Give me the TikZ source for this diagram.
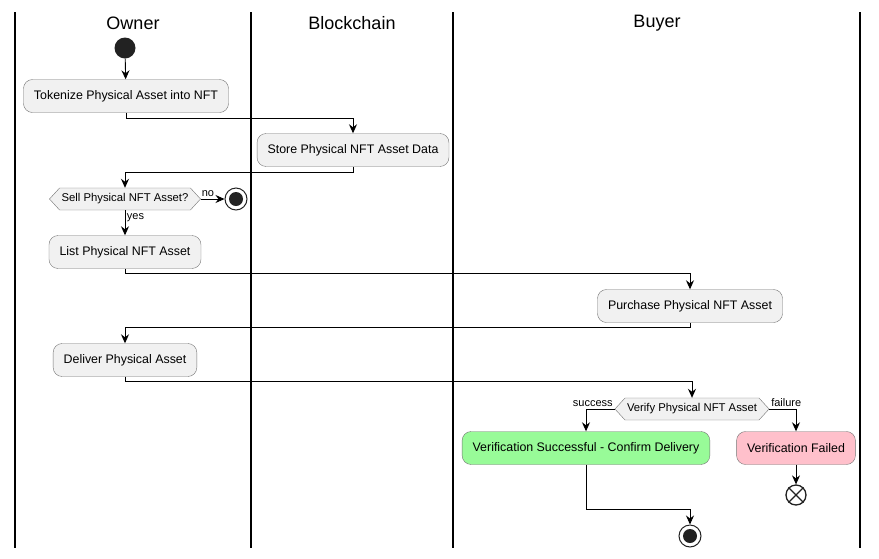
\documentclass[tikz,border=0pt]{standalone}
\usepackage{fontspec}
\setmainfont{Liberation Sans}
\usetikzlibrary{arrows.meta, positioning, shapes.symbols}

\definecolor{actfill}{HTML}{F1F1F1}
\definecolor{okfill}{HTML}{98FB98}
\definecolor{badfill}{HTML}{FFC0CB}
\definecolor{ink}{HTML}{222222}

\begin{document}
\begin{tikzpicture}[x=1pt,y=-1pt,>={Stealth[length=9pt,width=8pt,inset=3pt]},
      action/.style={draw=black!55,fill=actfill,rounded corners=9pt,minimum height=33pt,inner xsep=10.5pt,font=\fontsize{12.4}{14}\selectfont},
      choice/.style={draw=black!55,fill=actfill,signal,signal to=west and east,signal pointer angle=95,minimum height=22pt,inner xsep=2pt,inner ysep=0pt,font=\fontsize{11.3}{13}\selectfont},
      lane/.style={line width=1.1pt},
      lanehead/.style={font=\fontsize{18}{20}\selectfont},
      startdot/.style={circle,fill=ink,minimum size=21pt,inner sep=0pt},
      stopdot/.style={circle,draw=ink,line width=1pt,fill=white,minimum size=22pt,inner sep=0pt,
        path picture={\fill[ink] (path picture bounding box.center) circle (7pt);}},
      killdot/.style={circle,draw=ink,line width=1.3pt,fill=white,minimum size=20pt,inner sep=0pt},
      flow/.style={->,line width=0.9pt},
      guard/.style={font=\fontsize{11}{13}\selectfont,inner sep=1.5pt}]
      \useasboundingbox (0,0) rectangle (879,558);

      % swimlanes
      \foreach \lx in {15,251,453,860}
        \draw[lane] (\lx,12) -- (\lx,548);
      \node[lanehead] (h_owner) at (133,23) {Owner};
      \node[lanehead] (h_chain) at (352,23) {Blockchain};
      \node[lanehead] (h_buyer) at (657,23) {Buyer};

      % activities
      \node[startdot] (start) at (125,48) {};
      \node[action] (tok) at (126,96) {Tokenize Physical Asset into NFT};
      \node[action] (store) at (353,150) {Store Physical NFT Asset Data};
      \node[choice] (sell) at (125,199) {Sell Physical NFT Asset?};
      \node[stopdot] (quit) at (236,199) {};
      \node[action] (list) at (125,252) {List Physical NFT Asset};
      \node[action] (buy) at (690,306) {Purchase Physical NFT Asset};
      \node[action] (deliver) at (125,360) {Deliver Physical Asset};
      \node[choice] (verify) at (692,409) {Verify Physical NFT Asset};
      \node[action,fill=okfill] (ok) at (586,448) {Verification Successful - Confirm Delivery};
      \node[action,fill=badfill] (fail) at (796,448) {Verification Failed};
      \node[killdot] (kill) [below=47pt of fail.center, anchor=center] {};
      \draw[line width=1.3pt,ink] (kill.45) -- (kill.225) (kill.135) -- (kill.315);
      \node[stopdot] (done) at (690,536) {};

      % flow
      \draw[flow] (start) -- (tok);
      \draw[flow] (tok.south) -- ++(0,6) -| (store.north);
      \draw[flow] (store.south) -- ++(0,6) -| (sell.north);
      \draw[flow] (sell.east) -- node[guard,above,pos=0.3] {no} (quit);
      \draw[flow] (sell.south) -- node[guard,right,pos=0.3] {yes} (list);
      \draw[flow] (list.south) -- ++(0,5) -| (buy.north);
      \draw[flow] (buy.south) -- ++(0,5) -| (deliver.north);
      \draw[flow] (deliver.south) -- ++(0,5) -| (verify.north);
      \draw[flow] (verify.west) -| node[guard,pos=0,anchor=south east] {success} (ok.north);
      \draw[flow] (verify.east) -| node[guard,pos=0,anchor=south west] {failure} (fail.north);
      \draw[flow] (fail.south) -- (kill);
      \draw[flow] (ok.south) -- ++(0,45) -| (done.north);
    \end{tikzpicture}
\end{document}
